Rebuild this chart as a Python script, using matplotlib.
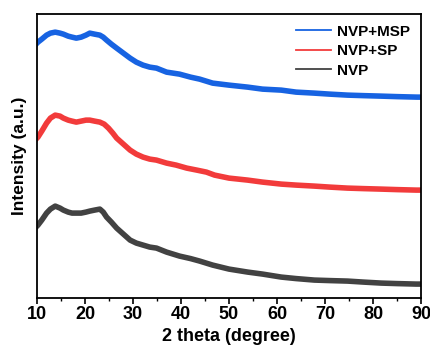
import matplotlib
matplotlib.use("Agg")
import matplotlib.pyplot as plt

plt.rcParams['font.family'] = ['Liberation Sans', 'DejaVu Sans']
plt.rcParams['font.weight'] = 'bold'

# =========================
# DATA (arbitrary intensity units)
# =========================
theta_msp = [10, 10.2, 11, 12, 12.8, 13.8, 14.8, 15.5, 16.5, 17.3, 18.2, 19.2, 20.2, 21, 22,
             23.1, 23.8, 24.5, 25.5, 26.6, 28, 29.4, 30.7, 32.1, 33.5, 34.9, 37, 39.7, 42,
             43.9, 46.6, 50, 53.9, 57, 60.9, 64, 67.8, 71, 74.7, 78, 81.7, 85, 89.2, 90]
int_msp = [255, 256, 259, 263, 265, 266, 265, 264, 262, 261, 260, 261, 263, 265, 264,
           263, 261, 258, 254, 250, 245, 240, 236, 233, 231, 230, 226, 224, 221,
           219, 215, 213, 211, 209, 208, 206, 205, 204, 203, 202.5, 202, 201.5, 201, 201]

theta_sp = [10, 10.2, 11, 12, 12.8, 13.8, 14.8, 15.5, 16.5, 17.3, 18.2, 19.2, 20.2, 21, 22,
            23.1, 24, 24.9, 25.8, 26.6, 28, 29.4, 30.7, 32.1, 33.5, 34.9, 37, 39, 41.2,
            43.3, 45.3, 47, 50, 53.9, 57, 60.9, 64, 67.8, 71, 74.7, 78, 81.7, 85, 89, 90]
int_sp = [160, 161, 167, 175, 180, 183, 182, 180, 178, 177, 176, 177, 178, 178, 177,
          176, 174, 170, 165, 160, 154, 148, 144, 141, 139, 138, 135, 133, 130,
          128, 126, 123, 120, 118, 116, 114, 113, 112, 111, 110, 109.5, 109, 108.5, 108, 108]

theta_nvp = [10, 10.2, 11, 12, 12.8, 13.8, 14.8, 15.5, 16.5, 17.3, 18.2, 19.2, 20.2, 21, 22,
             23.1, 23.8, 24.5, 25.5, 26.6, 28, 29.4, 30.7, 32.1, 33.5, 34.9, 37, 39.7, 42,
             43.9, 46.6, 50, 53.9, 57, 60.9, 64, 67.8, 71, 74.7, 78, 81.7, 85, 89, 90]
int_nvp = [72, 73, 78, 85, 89, 92, 90, 88, 86, 85, 85, 85, 86, 87, 88,
           89, 86, 81, 76, 70, 64, 58, 55, 53, 51, 50, 46, 42, 39.5,
           37, 33, 29, 26, 24, 21, 19.5, 18, 17.5, 17, 16, 15, 14.5, 14, 14]

labels = ["NVP+MSP", "NVP+SP", "NVP"]
colors = ["#1763e2", "#f23b3b", "#424242"]

# =========================
# GRAF
# =========================
fig = plt.figure(figsize=(4.3, 3.45), dpi=100)
ax = fig.add_axes([0.086, 0.136, 0.893, 0.823])

series = [(theta_msp, int_msp), (theta_sp, int_sp), (theta_nvp, int_nvp)]
for (x, y), lab, c in zip(series, labels, colors):
    ax.plot(x, y, color=c, lw=4, label=lab, solid_joinstyle='round')

ax.set_xlim(10, 90)
ax.set_ylim(0, 284)
ax.set_xticks(range(10, 91, 10))
ax.set_xticks(range(15, 90, 10), minor=True)
ax.set_yticks([])
ax.tick_params(axis='x', which='major', direction='out', length=4, width=1.2,
               labelsize=13, pad=2)
ax.tick_params(axis='x', which='minor', direction='out', length=2.5, width=1.0)
for lbl in ax.get_xticklabels():
    lbl.set_fontweight('bold')
for s in ax.spines.values():
    s.set_linewidth(1.3)

ax.set_xlabel("2 theta (degree)", fontsize=13, fontweight='bold', labelpad=3)
ax.set_ylabel("Intensity (a.u.)", fontsize=12.5, fontweight='bold', labelpad=7)

leg = ax.legend(loc='upper right', frameon=False, fontsize=11, handlelength=2.3,
                handletextpad=0.4, labelspacing=0.35, borderaxespad=0.3)
for line in leg.get_lines():
    line.set_linewidth(1.3)
for t in leg.get_texts():
    t.set_fontweight('bold')

fig.savefig("out.png", dpi=100)
